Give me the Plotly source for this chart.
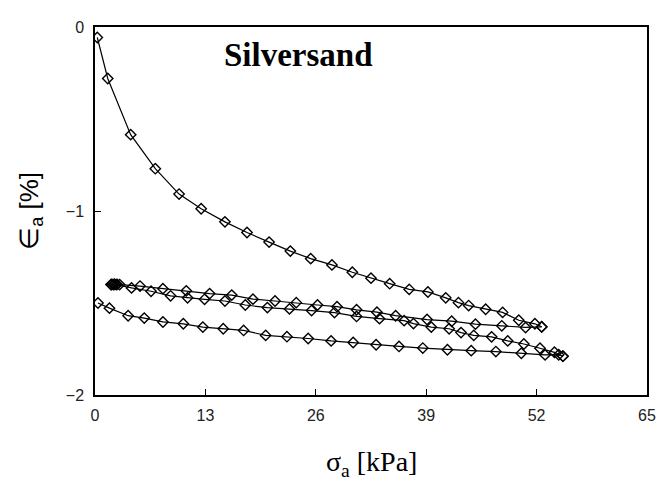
import plotly.graph_objects as go

# Loading branch 1: 0 -> 52.6 kPa
load1_x = [0.27, 1.5, 4.2, 7.1, 9.9, 12.5, 15.3, 17.9, 20.5, 23.0, 25.4, 27.9, 30.3, 32.5,
           34.7, 37.0, 39.2, 41.3, 42.8, 44.0, 46.0, 48.0, 49.9, 51.8, 52.6]
load1_y = [-0.057, -0.28, -0.585, -0.77, -0.908, -0.988, -1.059, -1.117, -1.169, -1.218,
           -1.259, -1.293, -1.333, -1.365, -1.395, -1.426, -1.44, -1.472, -1.498, -1.514,
           -1.534, -1.551, -1.594, -1.613, -1.629]

# Unloading branch 1: 52.6 -> ~2 kPa
unload1_x = [52.6, 50.7, 47.9, 44.8, 42.0, 39.1, 35.4, 33.2, 30.8, 28.5, 26.2, 23.7, 21.2,
             18.6, 16.1, 13.5, 10.75, 8.0, 5.3, 2.9, 2.6, 2.3, 2.0, 1.9]
unload1_y = [-1.63, -1.633, -1.624, -1.615, -1.599, -1.590, -1.569, -1.55, -1.537, -1.52,
             -1.511, -1.498, -1.489, -1.479, -1.457, -1.449, -1.434, -1.422, -1.408, -1.40,
             -1.399, -1.398, -1.399, -1.40]

# Reloading branch: ~2 -> 55 kPa
reload_x = [1.9, 2.2, 2.5, 4.3, 6.6, 8.9, 10.9, 12.9, 15.3, 17.7, 20.3, 22.9, 25.5, 28.2, 30.8,
            33.5, 36.4, 37.5, 39.6, 41.7, 43.1, 44.6, 46.7, 48.6, 50.5, 52.4, 54.1, 55.1]
reload_y = [-1.40, -1.40, -1.40, -1.418, -1.436, -1.461, -1.472, -1.48, -1.489, -1.511, -1.525,
            -1.532, -1.541, -1.552, -1.573, -1.585, -1.596, -1.612, -1.631, -1.64, -1.661,
            -1.676, -1.684, -1.706, -1.723, -1.746, -1.768, -1.789]

# Unloading branch 2: 55 -> 0 kPa
unload2_x = [55.1, 54.6, 53.0, 50.2, 47.2, 44.3, 41.5, 38.6, 35.8, 33.1, 30.4, 27.8, 25.1,
             22.6, 20.1, 17.5, 15.1, 12.7, 10.4, 8.0, 5.8, 3.9, 1.7, 0.35]
unload2_y = [-1.789, -1.781, -1.782, -1.773, -1.764, -1.759, -1.754, -1.745, -1.736, -1.727,
             -1.715, -1.706, -1.693, -1.683, -1.676, -1.649, -1.64, -1.631, -1.613, -1.603,
             -1.582, -1.569, -1.528, -1.50]

x_ticks = [0, 13, 26, 39, 52, 65]
y_ticks = [0, -1, -2]
y_ticktext = ["0", "\u22121", "\u22122"]

fig = go.Figure()
for xs, ys in [(load1_x, load1_y), (unload1_x, unload1_y),
               (reload_x, reload_y), (unload2_x, unload2_y)]:
    fig.add_trace(go.Scatter(
        x=xs, y=ys, mode="lines+markers",
        line=dict(color="black", width=1.2),
        marker=dict(symbol="diamond-open", size=8, color="black", line=dict(width=1.4)),
        showlegend=False, hoverinfo="skip"))

fig.update_layout(
    width=666, height=484,
    margin=dict(l=87, r=27, t=11, b=97),
    plot_bgcolor="white", paper_bgcolor="white",
    font=dict(family="Liberation Sans", color="black"),
    xaxis=dict(range=[0, 65], tickvals=x_ticks, ticks="inside", ticklen=6,
               tickcolor="black", tickfont=dict(size=16, color="#222"),
               showline=True, linecolor="black", linewidth=1.5, mirror=True,
               showgrid=False, zeroline=False, ticklabelstandoff=5),
    yaxis=dict(range=[-2, 0], tickvals=y_ticks, ticktext=y_ticktext, ticks="inside",
               ticklen=6, tickcolor="black", tickfont=dict(size=16, color="#222"),
               showline=True, linecolor="black", linewidth=1.5, mirror=True,
               showgrid=False, zeroline=False, ticklabelstandoff=6),
    annotations=[
        dict(text="<b>Silversand</b>", x=24.0, y=-0.15, xref="x", yref="y",
             showarrow=False, font=dict(family="Liberation Serif", size=33, color="black")),
        dict(text="\u03c3<sub>a</sub> [kPa]", x=0.5, y=-0.185, xref="paper", yref="paper",
             xanchor="center", yanchor="middle", showarrow=False,
             font=dict(family="Liberation Serif", size=28, color="black")),
        dict(text="\u2208<sub>a</sub> [%]", x=-0.118, y=0.5, xref="paper", yref="paper",
             xanchor="center", yanchor="middle", textangle=-90, showarrow=False,
             font=dict(family="Liberation Sans", size=26, color="black")),
    ],
)

fig.write_html("out.html")
